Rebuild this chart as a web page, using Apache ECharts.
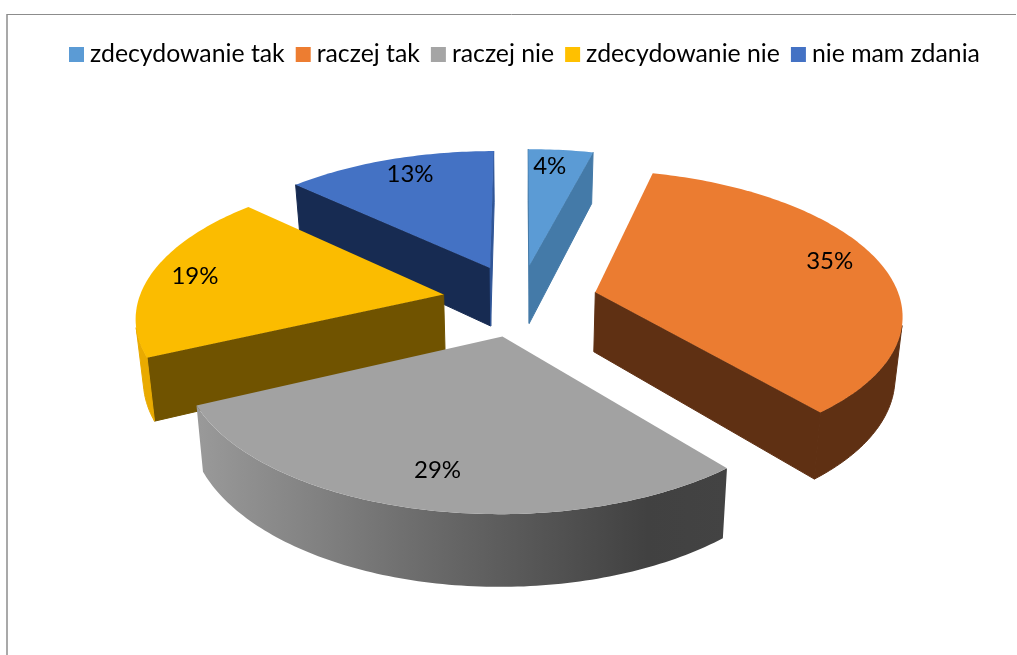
<!DOCTYPE html>
<html>
<head>
<meta charset="utf-8">
<style>html,body{margin:0;padding:0;background:#fff}#c{width:1017px;height:655px}</style>
<script src="https://cdn.jsdelivr.net/npm/echarts@6/dist/echarts.min.js"></script>
</head>
<body>
<div id="c"></div>
<script>
const categories = ['zdecydowanie tak', 'raczej tak', 'raczej nie', 'zdecydowanie nie', 'nie mam zdania'];
const values = [4, 35, 29, 19, 13];
const topColors = ['#5B9BD5', '#EB7C31', '#A2A2A2', '#FBBC00', '#4472C4'];
const legendColors = ['#5B9BD5', '#ED7D31', '#A5A5A5', '#FFC000', '#4472C4'];
const faceColors = ['#447AA8', '#5F3013', '#6B6B6B', '#705300', '#172B52'];
const wallColors = ['#447AA8', '#5F3013', null, '#E9AA00', '#2F5597'];
const drawOrder = [0, 4, 1, 3, 2];
const labelAngles = [5.5, 74, 192.7, 279, 338.3];
const labelRadii = [0.84, 0.84, 0.80, 0.85, 0.84];

// Perspective model of the exploded 3D pie
const CX = 520, CY = 300, RX = 305, RY = 141.5, K = 0.14, DEPTH = 60, SHRINK = 0.98, EXPLODE = 0.255;
const total = values.reduce((a, b) => a + b, 0);
const FONT = 'Lato';

function sliceAngles(i) {
  let before = 0;
  for (let j = 0; j < i; j++) before += values[j];
  const s = before / total * 2 * Math.PI;
  const e = (before + values[i]) / total * 2 * Math.PI;
  return [s, e, (s + e) / 2];
}
function project(mid, r, a, bottom) {
  const X = r * Math.sin(a) + EXPLODE * Math.sin(mid);
  const Y = r * Math.cos(a) + EXPLODE * Math.cos(mid);
  const w = 1 + K * Y;
  let sx = CX + RX * X / w;
  let sy = CY - RY * Y / w;
  if (bottom) {
    sx = CX + (sx - CX) * SHRINK;
    sy += DEPTH / w;
  }
  return [sx, sy];
}
function area(p) {
  let t = 0;
  for (let i = 0; i < p.length; i++) {
    const q = p[(i + 1) % p.length];
    t += p[i][0] * q[1] - q[0] * p[i][1];
  }
  return t;
}
const grayWall = {
  type: 'linear', x: 195, y: 0, x2: 727, y2: 0, global: true,
  colorStops: [
    { offset: 0, color: '#9A9A9A' },
    { offset: 0.5, color: '#646464' },
    { offset: 0.85, color: '#414141' },
    { offset: 1, color: '#434343' }
  ]
};
function poly(points, fill, z2, seam) {
  const style = { fill: fill };
  if (seam) { style.stroke = fill; style.lineWidth = 1; }
  return { type: 'polygon', z2: z2, shape: { points: points }, style: style };
}
function makeRender(i) {
  return function (params, api) {
    const [s, e, m] = sliceAngles(i);
    const children = [];
    const apexT = project(m, 0, 0, false), apexB = project(m, 0, 0, true);
    // cut faces
    const startFace = [apexT, project(m, 1, s, false), project(m, 1, s, true), apexB];
    const endFace = [project(m, 1, e, false), apexT, apexB, project(m, 1, e, true)];
    if (area(startFace) < 0) children.push(poly(startFace, faceColors[i], 1, true));
    if (area(endFace) < 0) children.push(poly(endFace, wallColors[i] || faceColors[i], 1, true));
    // outer wall, only the segments that face the viewer
    const steps = Math.max(8, Math.ceil((e - s) / (Math.PI / 180)));
    const tops = [], bots = [];
    for (let n = 0; n < steps; n++) {
      const a0 = s + (e - s) * n / steps, a1 = s + (e - s) * (n + 1) / steps;
      const t0 = project(m, 1, a0, false), t1 = project(m, 1, a1, false);
      const b0 = project(m, 1, a0, true), b1 = project(m, 1, a1, true);
      if (area([t0, t1, b1, b0]) < 0) {
        if (!tops.length) { tops.push(t0); bots.push(b0); }
        tops.push(t1); bots.push(b1);
      }
    }
    if (tops.length) {
      children.push(poly(tops.concat(bots.reverse()), wallColors[i] || grayWall, 2, !!wallColors[i]));
    }
    // top face
    const top = [apexT];
    for (let n = 0; n <= steps; n++) {
      top.push(project(m, 1, s + (e - s) * n / steps, false));
    }
    children.push(poly(top, topColors[i], 3, false));
    // data label
    const la = labelAngles[i] * Math.PI / 180;
    const lp = project(m, labelRadii[i], la, false);
    children.push({
      type: 'text', z2: 4, x: lp[0], y: lp[1],
      style: {
        text: api.value(0) + '%', fill: '#000', font: '24px ' + FONT,
        align: 'center', verticalAlign: 'middle'
      }
    });
    return { type: 'group', children: children };
  };
}

const chart = echarts.init(document.getElementById('c'), null, { renderer: 'canvas' });
chart.setOption({
  animation: false,
  backgroundColor: '#fff',
  legend: {
    left: 64, top: 37, itemWidth: 15, itemHeight: 15, itemGap: 11, icon: 'rect',
    data: categories,
    selectedMode: false,
    textStyle: { fontFamily: FONT, fontSize: 24.8, color: '#000', padding: [0, 0, 0, 1] }
  },
  graphic: [
    { type: 'line', silent: true, shape: { x1: 7, y1: 14.5, x2: 1016, y2: 14.5 }, style: { stroke: '#8C8C8C', lineWidth: 1 } },
    { type: 'line', silent: true, shape: { x1: 7, y1: 14, x2: 7, y2: 655 }, style: { stroke: '#8C8C8C', lineWidth: 1.5 } }
  ],
  series: categories.map((name, i) => ({
    type: 'custom',
    name: name,
    coordinateSystem: 'none',
    silent: true,
    z: 2 + drawOrder.indexOf(i),
    itemStyle: { color: legendColors[i] },
    data: [[values[i]]],
    renderItem: makeRender(i)
  }))
});
</script>
</body>
</html>
